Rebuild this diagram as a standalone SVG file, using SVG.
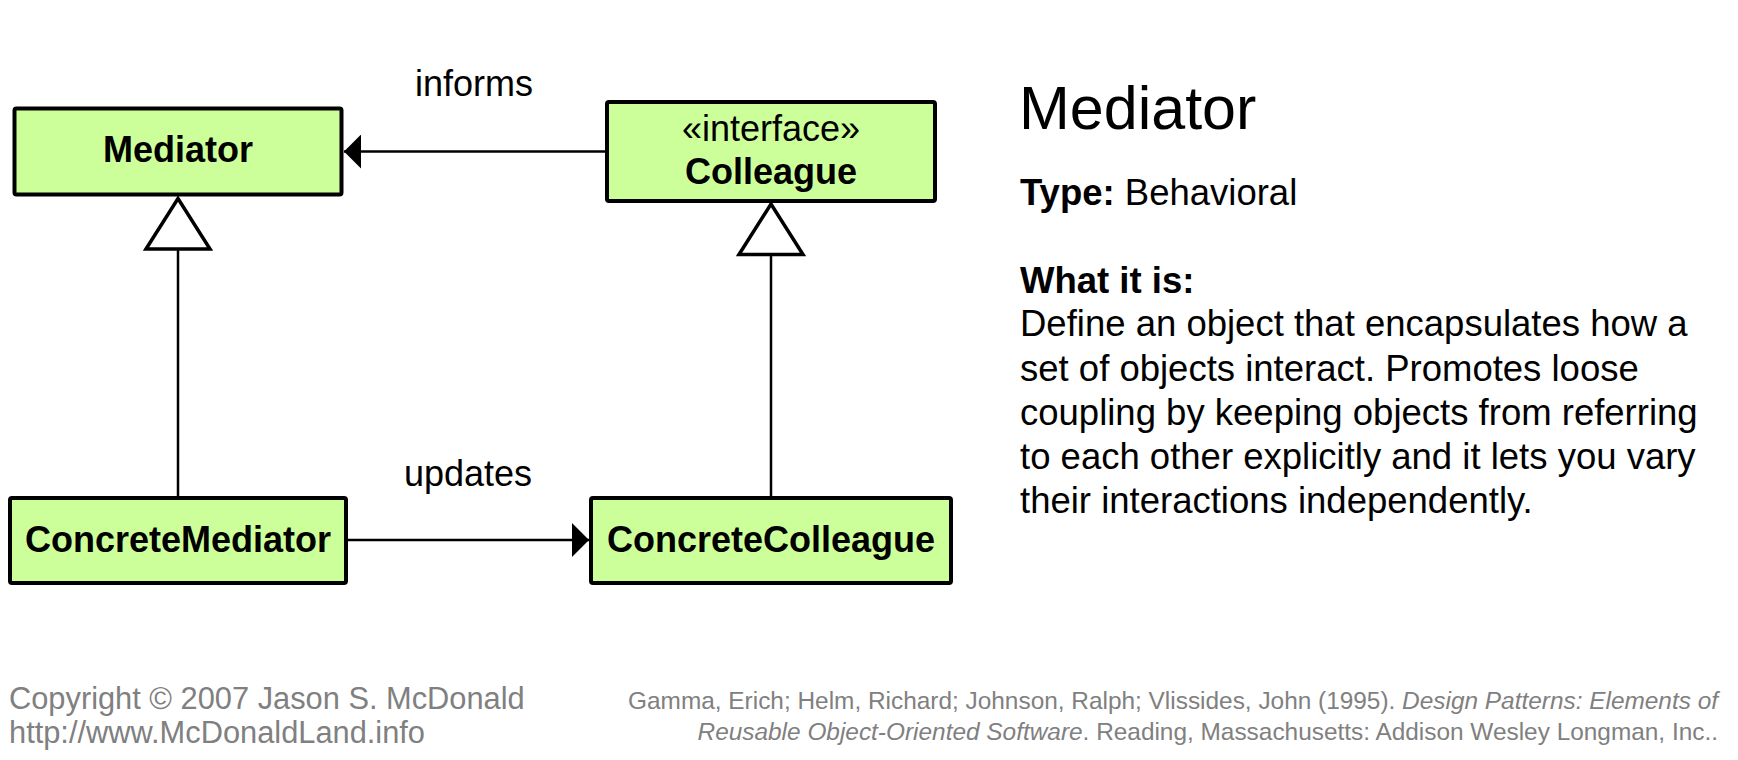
<svg xmlns="http://www.w3.org/2000/svg" width="1738" height="760" viewBox="0 0 1738 760">
<style>
text{font-family:"Liberation Sans",Arial,sans-serif;fill:#000}
.box{fill:#ccff99;stroke:#000;stroke-width:4}
.nm{font-size:36px;font-weight:bold;text-anchor:middle}
.st{font-size:36px;text-anchor:middle}
.lbl{font-size:36px;text-anchor:middle}
.conn{stroke:#000;stroke-width:2.5;fill:none}
.b36{font-size:36.5px}
.foot{font-size:30.8px;fill:#808080}
.ref{font-size:24.4px;fill:#808080;text-anchor:end}
</style>
<defs>
<marker id="arrow" markerUnits="userSpaceOnUse" viewBox="0 0 17 34" refX="17" refY="17" markerWidth="17" markerHeight="34" orient="auto">
<path d="M0,0 L17,17 L0,34 Z" fill="#000"/>
</marker>
<marker id="gen" markerUnits="userSpaceOnUse" viewBox="-3 -36 58 72" refX="0" refY="0" markerWidth="58" markerHeight="72" orient="auto" overflow="visible">
<path d="M0,-32 L50.5,0 L0,32 Z" fill="#fff" stroke="#000" stroke-width="3.5" stroke-linejoin="miter"/>
</marker>
</defs>
<rect width="1738" height="760" fill="#fff"/>
<g id="connectors">
<line class="conn" x1="605" y1="151.5" x2="344" y2="151.5" marker-end="url(#arrow)"/>
<text class="lbl" x="474" y="96">informs</text>
<line class="conn" x1="348" y1="540" x2="589" y2="540" marker-end="url(#arrow)"/>
<text class="lbl" x="468" y="486">updates</text>
<line class="conn" x1="178" y1="496" x2="178" y2="249" marker-end="url(#gen)"/>
<line class="conn" x1="771" y1="496" x2="771" y2="254.5" marker-end="url(#gen)"/>
</g>
<g id="node-mediator">
<rect class="box" x="14.5" y="108.5" width="327" height="86" rx="2"/>
<text class="nm" x="178" y="162">Mediator</text>
</g>
<g id="node-colleague">
<rect class="box" x="607" y="102" width="328" height="99" rx="2"/>
<text class="st" x="771" y="141">«interface»</text>
<text class="nm" x="771" y="184">Colleague</text>
</g>
<g id="node-concretemediator">
<rect class="box" x="10" y="498" width="336" height="85" rx="2"/>
<text class="nm" x="178" y="552">ConcreteMediator</text>
</g>
<g id="node-concretecolleague">
<rect class="box" x="591" y="498" width="360" height="85" rx="2"/>
<text class="nm" x="771" y="552">ConcreteColleague</text>
</g>
<g id="description">
<text x="1019" y="129" font-size="61">Mediator</text>
<text class="b36" x="1020" y="205"><tspan font-weight="bold">Type:</tspan> Behavioral</text>
<text class="b36" x="1020" y="293" font-weight="bold">What it is:</text>
<text class="b36" x="1020" y="336">Define an object that encapsulates how a</text>
<text class="b36" x="1020" y="381">set of objects interact. Promotes loose</text>
<text class="b36" x="1020" y="425">coupling by keeping objects from referring</text>
<text class="b36" x="1020" y="469">to each other explicitly and it lets you vary</text>
<text class="b36" x="1020" y="513">their interactions independently.</text>
</g>
<g id="footer">
<text class="foot" x="9" y="709">Copyright © 2007 Jason S. McDonald</text>
<text class="foot" x="9" y="743">http://www.McDonaldLand.info</text>
<text class="ref" x="1718" y="709">Gamma, Erich; Helm, Richard; Johnson, Ralph; Vlissides, John (1995). <tspan font-style="italic">Design Patterns: Elements of</tspan></text>
<text class="ref" x="1718" y="740"><tspan font-style="italic">Reusable Object-Oriented Software</tspan>. Reading, Massachusetts: Addison Wesley Longman, Inc..</text>
</g>
</svg>
